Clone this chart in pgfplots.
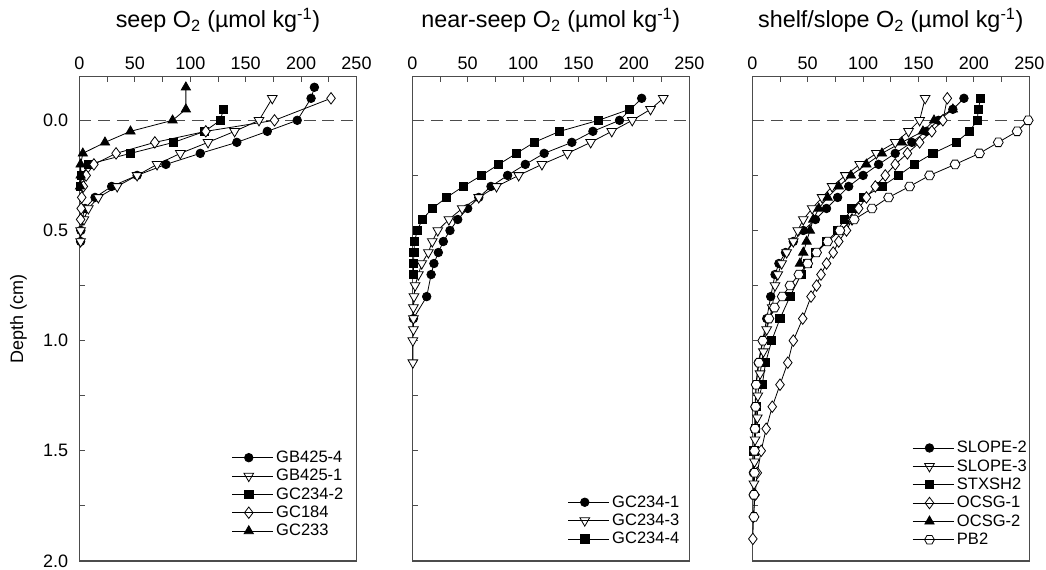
\documentclass[border=0pt]{standalone}
\usepackage{fontspec}
\setmainfont{Liberation Sans}
\usepackage{pgfplots}
\pgfplotsset{compat=1.18}

% open hexagon marker for PB2
\pgfdeclareplotmark{hexagon}{%
  \pgfpathmoveto{\pgfpointpolar{0}{\pgfplotmarksize}}%
  \pgfpathlineto{\pgfpointpolar{60}{\pgfplotmarksize}}%
  \pgfpathlineto{\pgfpointpolar{120}{\pgfplotmarksize}}%
  \pgfpathlineto{\pgfpointpolar{180}{\pgfplotmarksize}}%
  \pgfpathlineto{\pgfpointpolar{240}{\pgfplotmarksize}}%
  \pgfpathlineto{\pgfpointpolar{300}{\pgfplotmarksize}}%
  \pgfpathclose
  \pgfusepathqfillstroke}

\newcommand{\tickfont}{\fontsize{13.5}{16}\selectfont}
\newcommand{\labfont}{\fontsize{13.5}{16}\selectfont}
\newcommand{\legfont}{\fontsize{12.4}{14}\selectfont}
\newcommand{\titfont}{\fontsize{17.5}{21}\selectfont}

\pgfplotsset{
  panel/.style={
    width=207.75pt, height=363.5pt, scale only axis,
    xmin=0, xmax=250, ymin=-0.2, ymax=2, y dir=reverse,
    xtick={0,50,100,150,200,250}, ytick={0,0.5,1,1.5,2},
    minor x tick num=1, minor y tick num=1,
    xtick pos=right, xticklabel pos=right, ytick pos=left,
    tick align=inside,
    major tick length=4pt, minor tick length=4pt,
    axis line style={black!70, line width=0.9pt},
    every tick/.style={black!70, line width=0.7pt},
    ticklabel style={font=\tickfont},
    /pgf/number format/assume math mode=true,
    xticklabel style={yshift=1.5pt},
    yticklabel style={xshift=-5pt, /pgf/number format/.cd, fixed, fixed zerofill, precision=1},
    clip=false,
    every axis plot/.append style={black, line width=0.6pt},
    legend style={draw=none, fill=none, font=\legfont, anchor=north west,
      inner sep=0pt, outer sep=0pt, row sep=0pt,
      nodes={inner sep=1.8pt}},
    legend cell align=left,
    legend image code/.code={%
      \draw[mark repeat=2, mark phase=2, #1] plot coordinates {(0pt,0pt) (12.5pt,0pt) (25pt,0pt)};
      \path (0pt,0pt) -- (31pt,0pt);},
  },
  surf/.style={forget plot, black!70, line width=0.8pt, dash pattern=on 9pt off 5pt},
  fcirc/.style={mark=*, mark size=3.2pt, mark options={solid, fill=black}},
  otri/.style={mark=triangle*, mark size=4.2pt, mark options={solid, fill=white, rotate=180}},
  fsq/.style={mark=square*, mark size=3.1pt, mark options={solid, fill=black}},
  odia/.style={mark=diamond*, mark size=4.3pt, mark options={solid, fill=white}},
  ftri/.style={mark=triangle*, mark size=4pt, mark options={solid, fill=black}},
  ohex/.style={mark=hexagon, mark size=3.7pt, mark options={solid, fill=white}},
}

\begin{document}
\begin{tikzpicture}
\useasboundingbox (0pt,0pt) rectangle (784.5pt,-427.5pt);

% ---------------- seep ----------------
\begin{axis}[panel, at={(59.625pt,-57.2pt)}, anchor=north west,
  ylabel={\labfont Depth (cm)},
  ylabel style={at={(axis description cs:-0.2202,0.5)}, anchor=center},
  legend style={at={(rel axis cs:0.5495,0.232)}}]
\addplot[surf] coordinates {(0,0) (250,0)};
\addplot[fcirc] coordinates {(212,-0.15) (209,-0.1) (196.5,0) (169.5,0.05) (142,0.1) (109,0.15) (78,0.2) (52,0.25) (29,0.3) (14,0.35) (5,0.4) (2,0.45) (1.2,0.5) (1,0.55)};
\addlegendentry{GB425-4}
\addplot[otri] coordinates {(174,-0.1) (162,0) (140,0.05) (116,0.1) (91,0.15) (70,0.2) (52,0.25) (34,0.3) (17,0.35) (8,0.4) (4,0.45) (1,0.5) (1,0.55)};
\addlegendentry{GB425-1}
\addplot[fsq] coordinates {(130,-0.05) (127,0) (113,0.05) (85,0.1) (46,0.15) (8,0.2) (2,0.25) (1,0.3)};
\addlegendentry{GC234-2}
\addplot[odia] coordinates {(227,-0.1) (176,0) (114,0.05) (68,0.1) (33,0.15) (13,0.2) (6,0.25) (3.5,0.3) (2,0.35) (1.5,0.4) (1,0.45)};
\addlegendentry{GC184}
\addplot[ftri] coordinates {(96,-0.15) (96,-0.05) (84,0) (46,0.05) (23,0.1) (3,0.15) (1,0.2) (1,0.25) (0.5,0.3)};
\addlegendentry{GC233}
\node[font=\titfont] at (axis description cs:0.5,1) [yshift=42pt] {seep O\textsubscript{2} (µmol kg\textsuperscript{-1})};
\end{axis}

% ---------------- near-seep ----------------
\begin{axis}[panel, at={(309.225pt,-57.2pt)}, anchor=north west,
  yticklabels={},
  legend style={at={(rel axis cs:0.561,0.14)}}]
\addplot[surf] coordinates {(0,0) (250,0)};
\addplot[fcirc] coordinates {(207,-0.1) (187,0) (163,0.05) (144,0.1) (119,0.15) (102,0.2) (86,0.25) (71,0.3) (60,0.35) (50,0.4) (41,0.45) (34,0.5) (28,0.55) (23.5,0.6) (19.5,0.65) (17,0.7) (13,0.8) (1,0.9)};
\addlegendentry{GC234-1}
\addplot[otri] coordinates {(226.5,-0.1) (215,-0.05) (198.5,0) (180,0.05) (161,0.1) (140,0.15) (117,0.2) (96,0.25) (76,0.3) (60,0.35) (45,0.4) (33,0.45) (23,0.5) (18,0.55) (14.5,0.6) (8.5,0.65) (5.5,0.7) (2.5,0.75) (1.5,0.8) (1,0.85) (1,0.9) (1,0.95) (0.5,1.0) (0.5,1.1)};
\addlegendentry{GC234-3}
\addplot[fsq] coordinates {(196,-0.05) (168,0) (133,0.05) (110,0.1) (94,0.15) (78,0.2) (62.5,0.25) (46,0.3) (31,0.35) (18,0.4) (9,0.45) (4.5,0.5) (2,0.55) (1.5,0.6) (1,0.65) (1,0.7)};
\addlegendentry{GC234-4}
\node[font=\titfont] at (axis description cs:0.5,1) [yshift=42pt] {near-seep O\textsubscript{2} (µmol kg\textsuperscript{-1})};
\end{axis}

% ---------------- shelf/slope ----------------
\begin{axis}[panel, at={(564.225pt,-57.2pt)}, anchor=north west,
  yticklabels={},
  legend style={at={(rel axis cs:0.578,0.252)}}]
\addplot[surf] coordinates {(0,0) (250,0)};
\addplot[fcirc] coordinates {(191,-0.1) (181,-0.05) (168,0) (157,0.05) (144,0.1) (129,0.15) (114,0.2) (100,0.25) (87,0.3) (77,0.35) (67,0.4) (57,0.45) (46,0.5) (37,0.55) (30,0.6) (24,0.65) (20.5,0.7) (16.6,0.8) (13,0.9) (9.4,1.0) (5.4,1.1) (3.3,1.2) (2.5,1.3) (2,1.4) (1.5,1.5) (1,1.6) (1,1.7)};
\addlegendentry{SLOPE-2}
\addplot[otri] coordinates {(156,-0.1) (151,0) (141,0.05) (129,0.1) (112,0.15) (97,0.2) (84,0.25) (72,0.3) (63,0.35) (54,0.4) (46,0.45) (41,0.5) (37,0.55) (31,0.6) (26.5,0.65) (23,0.7) (20.5,0.75) (18,0.85) (13,0.95) (10,1.05) (7,1.15) (5,1.25) (4.5,1.35) (2.5,1.45) (2,1.55) (1.5,1.65)};
\addlegendentry{SLOPE-3}
\addplot[fsq] coordinates {(206,-0.1) (204,-0.05) (203,0) (196,0.05) (184,0.1) (163,0.15) (146,0.2) (132,0.25) (117,0.3) (100,0.35) (90,0.4) (83,0.45) (77,0.5) (67,0.55) (57,0.6) (50,0.65) (44,0.7) (34,0.8) (25,0.9) (17.5,1.0) (12,1.1) (9,1.2) (4,1.3) (2.5,1.4) (1.5,1.5)};
\addlegendentry{STXSH2}
\addplot[odia] coordinates {(176,-0.1) (172,0) (162,0.05) (151,0.1) (140,0.15) (129,0.2) (120,0.25) (111,0.3) (103,0.35) (96,0.4) (90,0.45) (85,0.5) (78,0.55) (73,0.6) (67,0.65) (62,0.7) (58,0.75) (53,0.8) (45.5,0.9) (37,1.0) (32,1.1) (25,1.2) (18,1.3) (12.5,1.4) (8,1.5) (4.5,1.6) (2.5,1.7) (1,1.8) (0.5,1.9)};
\addlegendentry{OCSG-1}
\addplot[ftri] coordinates {(181,-0.05) (164,0) (154,0.05) (135,0.1) (117,0.15) (103,0.2) (89,0.25) (78,0.3) (68,0.35) (60,0.4) (55,0.45) (52,0.5) (49,0.55) (46,0.6) (43,0.65)};
\addlegendentry{OCSG-2}
\addplot[ohex] coordinates {(249,0) (239,0.05) (222,0.1) (205,0.15) (183,0.2) (160,0.25) (142,0.3) (123,0.35) (108,0.4) (92,0.45) (79,0.5) (68,0.55) (58,0.6) (50,0.65) (42,0.7) (34,0.75) (27,0.8) (20,0.85) (15,0.9) (9.5,1.0) (6,1.1) (3.5,1.2) (3,1.3) (2.5,1.4) (2,1.5) (2,1.6) (1.5,1.7) (1.5,1.8)};
\addlegendentry{PB2}
\node[font=\titfont] at (axis description cs:0.5,1) [yshift=42pt] {shelf/slope O\textsubscript{2} (µmol kg\textsuperscript{-1})};
\end{axis}
\end{tikzpicture}
\end{document}
